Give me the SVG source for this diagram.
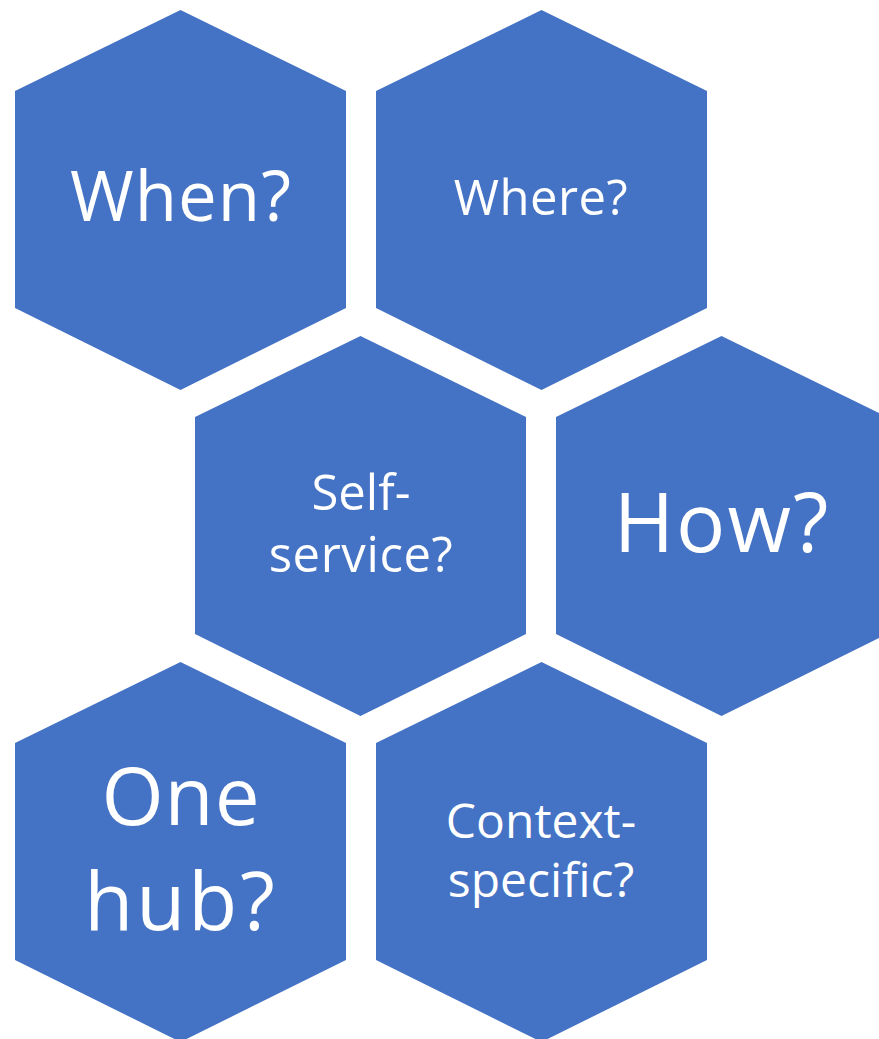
<svg xmlns="http://www.w3.org/2000/svg" width="879" height="1039" viewBox="0 0 879 1039">
<defs>
<style>
.hex{fill:#4472C4;}
.t{fill:#FFFFFF;font-family:"Open Sans","Liberation Sans",sans-serif;text-anchor:middle;}
</style>
<polygon id="hexshape" points="165.5,0 331,81 331,298 165.5,380 0,298 0,81"/>
</defs>
<rect width="879" height="1039" fill="#FFFFFF"/>
<g id="node-when">
<use href="#hexshape" class="hex" x="15" y="10"/>
<text class="t" x="181" y="221" font-size="69" letter-spacing="1">When?</text>
</g>
<g id="node-where">
<use href="#hexshape" class="hex" x="376" y="10"/>
<text class="t" x="541" y="215" font-size="49" letter-spacing="0.5">Where?</text>
</g>
<g id="node-selfservice">
<use href="#hexshape" class="hex" x="195" y="336"/>
<text class="t" x="361" y="510" font-size="49">Self-</text>
<text class="t" x="361" y="572" font-size="49" letter-spacing="0.6">service?</text>
</g>
<g id="node-how">
<use href="#hexshape" class="hex" x="556" y="336"/>
<text class="t" x="722" y="552" font-size="82" letter-spacing="2">How?</text>
</g>
<g id="node-onehub">
<use href="#hexshape" class="hex" x="15" y="662"/>
<text class="t" x="181" y="825" font-size="80" letter-spacing="1">One</text>
<text class="t" x="181" y="930" font-size="80" letter-spacing="3">hub?</text>
</g>
<g id="node-context">
<use href="#hexshape" class="hex" x="376" y="662"/>
<text class="t" x="541" y="838" font-size="48">Context-</text>
<text class="t" x="541" y="897" font-size="48">specific?</text>
</g>
<g id="connectors"></g>
</svg>
